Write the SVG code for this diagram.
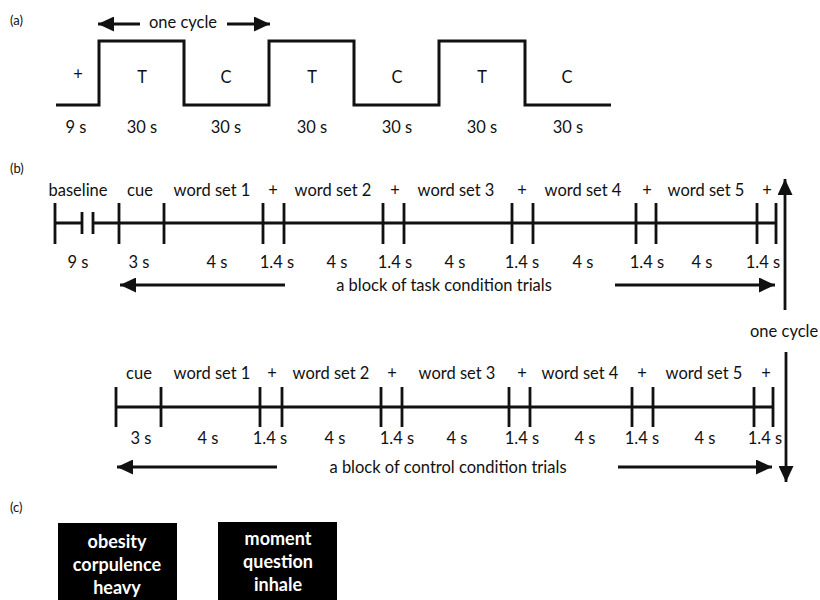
<svg xmlns="http://www.w3.org/2000/svg" width="820" height="600" viewBox="0 0 820 600">
<style>
  text { font-family: Lato, "Open Sans", "DejaVu Sans", sans-serif; fill: #111; }
  .lbl { font-size: 16.5px; text-anchor: middle; }
  .sec { font-size: 13px; }
  .wave { fill: none; stroke: #111; stroke-width: 3; stroke-linejoin: miter; }
  .tl { stroke: #111; stroke-width: 2.8; fill: none; }
  .arr { stroke: #111; stroke-width: 2.8; fill: none; marker-end: url(#head); }
  .box { fill: #000; }
  .bt { font-size: 18px; font-weight: bold; fill: #fff; text-anchor: middle; }
</style>
<defs>
  <marker id="head" markerUnits="userSpaceOnUse" markerWidth="17" markerHeight="15" refX="16" refY="7.5" orient="auto">
    <path d="M0,0 L16,7.5 L0,15 z" fill="#111"/>
  </marker>
</defs>
<rect width="820" height="600" fill="#fff"/>

<!-- (a) -->
<g id="panel-a">
  <text class="sec" x="10" y="25">(a)</text>
  <path class="wave" d="M56,105 H99 V41 H184 V105 H269 V41 H354 V105 H439 V41 H525 V105 H611"/>
  <text class="lbl" x="78" y="80">+</text>
  <text class="lbl" x="142" y="83">T</text>
  <text class="lbl" x="226" y="83">C</text>
  <text class="lbl" x="312" y="83">T</text>
  <text class="lbl" x="397" y="83">C</text>
  <text class="lbl" x="482" y="83">T</text>
  <text class="lbl" x="567" y="83">C</text>
  <text class="lbl" x="76" y="133">9 s</text>
  <text class="lbl" x="142" y="133">30 s</text>
  <text class="lbl" x="226" y="133">30 s</text>
  <text class="lbl" x="312" y="133">30 s</text>
  <text class="lbl" x="397" y="133">30 s</text>
  <text class="lbl" x="482" y="133">30 s</text>
  <text class="lbl" x="568" y="133">30 s</text>
  <text class="lbl" x="183" y="28">one cycle</text>
</g>

<!-- (b) task timeline -->
<g id="panel-b-task">
  <text class="sec" x="10" y="173">(b)</text>
  <path class="tl" d="M55,223 H82 M93,223 H776"/>
  <path class="tl" d="M55,203 V244 M82,212 V234 M93,212 V234 M119,203 V244 M164,203 V244 M263,203 V244 M284,203 V244 M383,203 V244 M404,203 V244 M512,203 V244 M533,203 V244 M636,203 V244 M656,203 V244 M757,203 V244 M776,203 V244"/>
  <text class="lbl" x="78" y="196">baseline</text>
  <text class="lbl" x="140" y="196">cue</text>
  <text class="lbl" x="212" y="196">word set 1</text>
  <text class="lbl" x="273" y="196">+</text>
  <text class="lbl" x="333" y="196">word set 2</text>
  <text class="lbl" x="395" y="196">+</text>
  <text class="lbl" x="456" y="196">word set 3</text>
  <text class="lbl" x="522" y="196">+</text>
  <text class="lbl" x="583" y="196">word set 4</text>
  <text class="lbl" x="647" y="196">+</text>
  <text class="lbl" x="706" y="196">word set 5</text>
  <text class="lbl" x="767" y="196">+</text>
  <text class="lbl" x="78" y="268">9 s</text>
  <text class="lbl" x="139" y="268">3 s</text>
  <text class="lbl" x="217" y="268">4 s</text>
  <text class="lbl" x="277" y="268">1.4 s</text>
  <text class="lbl" x="337" y="268">4 s</text>
  <text class="lbl" x="395" y="268">1.4 s</text>
  <text class="lbl" x="455" y="268">4 s</text>
  <text class="lbl" x="522" y="268">1.4 s</text>
  <text class="lbl" x="583" y="268">4 s</text>
  <text class="lbl" x="647" y="268">1.4 s</text>
  <text class="lbl" x="702" y="268">4 s</text>
  <text class="lbl" x="763" y="268">1.4 s</text>
  <text class="lbl" x="444" y="291">a block of task condition trials</text>
</g>

<!-- (b) control timeline -->
<g id="panel-b-control">
  <path class="tl" d="M116,407 H773"/>
  <path class="tl" d="M116,387 V427 M161,387 V427 M260,387 V427 M282,387 V427 M381,387 V427 M402,387 V427 M509,387 V427 M530,387 V427 M632,387 V427 M653,387 V427 M754,387 V427 M773,387 V427"/>
  <text class="lbl" x="139" y="379">cue</text>
  <text class="lbl" x="212" y="379">word set 1</text>
  <text class="lbl" x="272" y="379">+</text>
  <text class="lbl" x="331" y="379">word set 2</text>
  <text class="lbl" x="392" y="379">+</text>
  <text class="lbl" x="457" y="379">word set 3</text>
  <text class="lbl" x="522" y="379">+</text>
  <text class="lbl" x="580" y="379">word set 4</text>
  <text class="lbl" x="642" y="379">+</text>
  <text class="lbl" x="704" y="379">word set 5</text>
  <text class="lbl" x="766" y="379">+</text>
  <text class="lbl" x="141" y="444">3 s</text>
  <text class="lbl" x="208" y="444">4 s</text>
  <text class="lbl" x="270" y="444">1.4 s</text>
  <text class="lbl" x="335" y="444">4 s</text>
  <text class="lbl" x="397" y="444">1.4 s</text>
  <text class="lbl" x="457" y="444">4 s</text>
  <text class="lbl" x="522" y="444">1.4 s</text>
  <text class="lbl" x="585" y="444">4 s</text>
  <text class="lbl" x="642" y="444">1.4 s</text>
  <text class="lbl" x="705" y="444">4 s</text>
  <text class="lbl" x="765" y="444">1.4 s</text>
  <text class="lbl" x="448" y="473">a block of control condition trials</text>
  <text class="lbl" x="750" y="337" style="text-anchor:start">one cycle</text>
</g>

<!-- connectors -->
<g id="connectors">
  <line class="arr" x1="140" y1="24" x2="98" y2="24"/>
  <line class="arr" x1="227" y1="24" x2="270" y2="24"/>
  <line class="arr" x1="285" y1="285" x2="120" y2="285"/>
  <line class="arr" x1="615" y1="285" x2="775" y2="285"/>
  <line class="arr" x1="277" y1="467" x2="117" y2="467"/>
  <line class="arr" x1="618" y1="467" x2="772" y2="467"/>
  <line class="arr" x1="785" y1="310" x2="785" y2="179"/>
  <line class="arr" x1="786" y1="352" x2="786" y2="482"/>
</g>

<!-- (c) -->
<text class="sec" x="10" y="512">(c)</text>
<g id="box-1">
  <rect class="box" x="58" y="523" width="119" height="77"/>
  <text class="bt" x="117" y="548">obesity</text>
  <text class="bt" x="117" y="571">corpulence</text>
  <text class="bt" x="117" y="594">heavy</text>
</g>
<g id="box-2">
  <rect class="box" x="218" y="522" width="119" height="78"/>
  <text class="bt" x="278" y="545">moment</text>
  <text class="bt" x="278" y="568">question</text>
  <text class="bt" x="278" y="591">inhale</text>
</g>
</svg>
